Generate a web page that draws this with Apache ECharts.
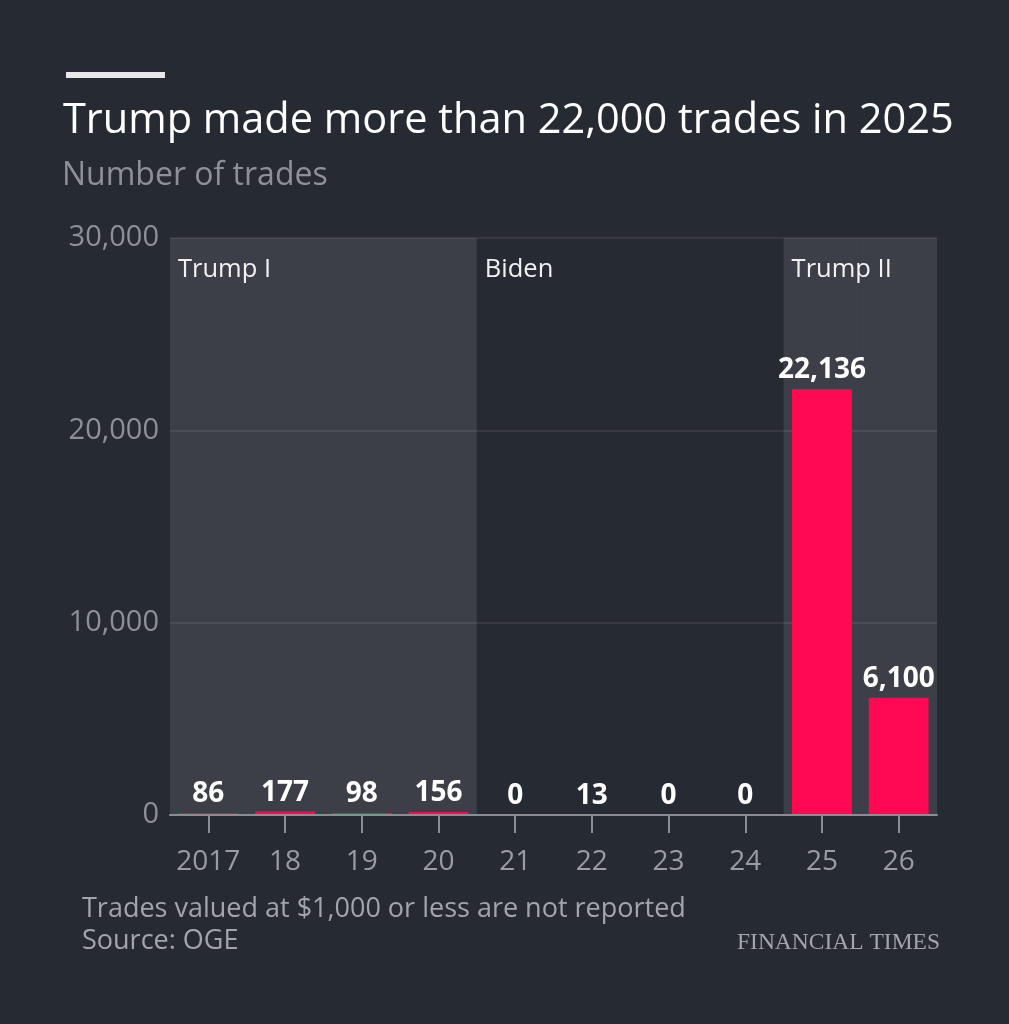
<!DOCTYPE html>
<html>
<head>
<meta charset="utf-8">
<script src="https://cdn.jsdelivr.net/npm/echarts@6/dist/echarts.min.js"></script>
<style>
html,body{margin:0;padding:0;background:#262a33;}
#chart{width:1009px;height:1024px;}
</style>
</head>
<body>
<div id="chart"></div>
<script>
const categories = ['2017','18','19','20','21','22','23','24','25','26'];
const trades = [86,177,98,156,0,13,0,0,22136,6100];
const eraLabels = ['Trump I','','','','Biden','','','','Trump II',''];
const eraShaded = [true,true,true,true,false,false,false,false,true,true];
const yTicks = [0,10000,20000,30000];

const bg = '#262a33';
const chart = echarts.init(document.getElementById('chart'));
const font = 'Open Sans';

chart.setOption({
  backgroundColor: bg,
  animation: false,
  textStyle: {fontFamily: font},
  graphic: [
    {type:'rect', left:66, top:72, shape:{width:99, height:6}, style:{fill:'#e8e8e8'}},
    {type:'text', left:63, top:100, style:{text:'Trump made more than 22,000 trades in 2025', fill:'#ffffff', fontSize:41.5, fontFamily:font}},
    {type:'text', left:62, top:160, style:{text:'Number of trades', fill:'#8e9097', fontSize:32, fontFamily:font}},
    {type:'text', left:82, top:896, style:{text:'Trades valued at $1,000 or less are not reported', fill:'#a3a5ab', fontSize:27, fontFamily:font}},
    {type:'text', left:82, top:928, style:{text:'Source: OGE', fill:'#a3a5ab', fontSize:27, fontFamily:font}},
    {type:'text', right:69, top:931, style:{text:'FINANCIAL TIMES', fill:'#a3a5ab', fontSize:23.5, fontFamily:'Liberation Serif', align:'right'}}
  ],
  grid: {left:170, right:72, top:238, bottom:209, containLabel:false},
  xAxis: [
    {
      type:'category', data:categories, boundaryGap:true,
      axisLine:{show:true, lineStyle:{color:'#8a8d94', width:2}},
      axisTick:{show:true, alignWithLabel:true, interval:0, length:18, lineStyle:{color:'#8a8d94', width:2}},
      axisLabel:{color:'#9a9ca3', fontSize:28, margin:33, interval:0, fontFamily:font},
      z:10
    },
    {
      type:'category', data:categories, boundaryGap:true, show:false
    }
  ],
  yAxis: {
    type:'value', min:0, max:30000, interval:10000,
    axisLine:{show:false}, axisTick:{show:false},
    splitLine:{show:true, lineStyle:{color:'#3c3f48', width:1.5}},
    axisLabel:{
      color:'#8e9097', fontSize:29, margin:11, fontFamily:font,
      formatter: v => yTicks.includes(v) ? v.toLocaleString('en-US') : ''
    }
  },
  series: [
    {
      type:'bar', xAxisIndex:1, barWidth:'100%', silent:true, z:1,
      data: categories.map((c,i)=>({
        value:30000,
        itemStyle:{color: eraShaded[i] ? 'rgba(255,255,255,0.1)' : 'rgba(0,0,0,0)'},
        label:{show: eraLabels[i] !== '', formatter: eraLabels[i]}
      })),
      label:{position:'insideTopLeft', distance:8, offset:[0,11], color:'#f2f2f2', fontSize:25.5, fontFamily:font, overflow:'none', width:200}
    },
    {
      type:'bar', xAxisIndex:0, barWidth:'78%', z:5,
      data: trades,
      itemStyle:{color:'#ff0a52'},
      label:{show:true, position:'top', distance:5, color:'#ffffff', fontSize:28, fontWeight:'bold', fontFamily:font,
        formatter: p => p.value.toLocaleString('en-US')}
    }
  ]
});
</script>
</body>
</html>
